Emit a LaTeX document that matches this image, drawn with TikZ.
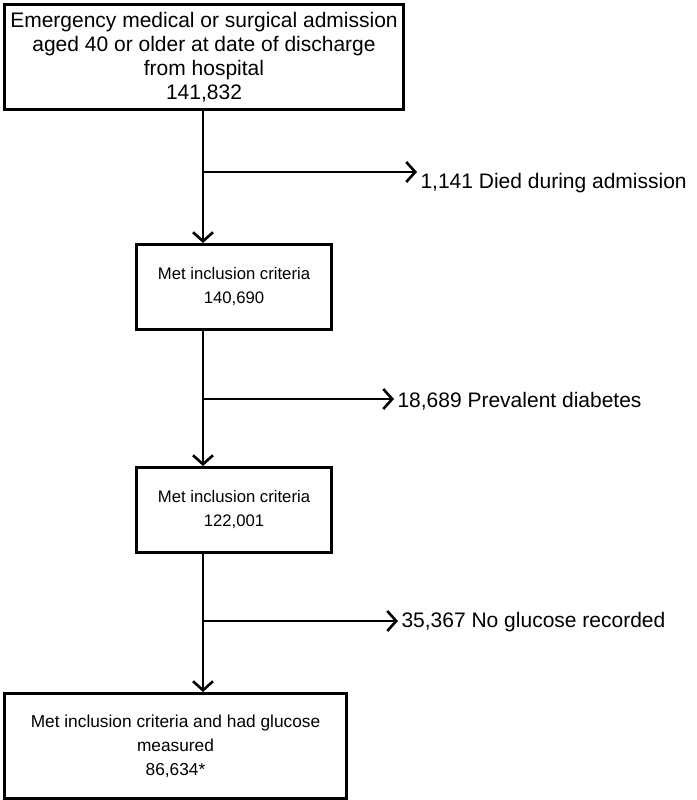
\documentclass[tikz,border=0pt]{standalone}
\usepackage{fontspec}
\setmainfont{Liberation Sans}
\usetikzlibrary{positioning,arrows.meta}
\tikzset{box/.style={draw,line width=3pt,align=center,anchor=north west,inner sep=0pt},
	flow/.style={line width=2.6pt,-{Straight Barb[length=9pt,width=20pt]}},
	side/.style={anchor=west,font=\fontsize{21}{25}\selectfont}}
\begin{document}
\begin{tikzpicture}[x=1pt,y=-1pt]
	\useasboundingbox (0,0) rectangle (696,800);
	\node[box,minimum width=399pt,minimum height=105pt,font=\fontsize{21}{24}\selectfont] (adm) at (3,3) {Emergency medical or surgical admission\\aged 40 or older at date of discharge\\from hospital\\141,832};
	\node[box,minimum width=195pt,minimum height=85pt,font=\fontsize{16.7}{24}\selectfont] (inc1) at (135,243) {Met inclusion criteria\\140,690};
	\node[box,minimum width=195pt,minimum height=85pt,font=\fontsize{16.7}{24}\selectfont] (inc2) at (135,466) {Met inclusion criteria\\122,001};
	\node[box,minimum width=342pt,minimum height=105pt,font=\fontsize{17.3}{24}\selectfont] (gluc) at (3,692) {Met inclusion criteria and had glucose\\measured\\86,634*};
	% exclusions
	\node[side] (died) at (417,183) {1,141 Died during admission};
	\node[side] (diab) at (394,401) {18,689 Prevalent diabetes};
	\node[side] (noglu) at (398,622) {35,367 No glucose recorded};
	\coordinate (b1) at (203,172);
	\coordinate (b2) at (203,399);
	\coordinate (b3) at (203,621);
	% connectors
	\draw[flow] (adm.south -| b1) -- (inc1.north -| b1);
	\draw[flow] (inc1.south -| b2) -- (inc2.north -| b2);
	\draw[flow] (inc2.south -| b3) -- (gluc.north -| b3);
	\draw[flow] (b1) -- (died.west |- b1);
	\draw[flow] (b2) -- (diab.west |- b2);
	\draw[flow] (b3) -- (noglu.west |- b3);
\end{tikzpicture}
\end{document}
